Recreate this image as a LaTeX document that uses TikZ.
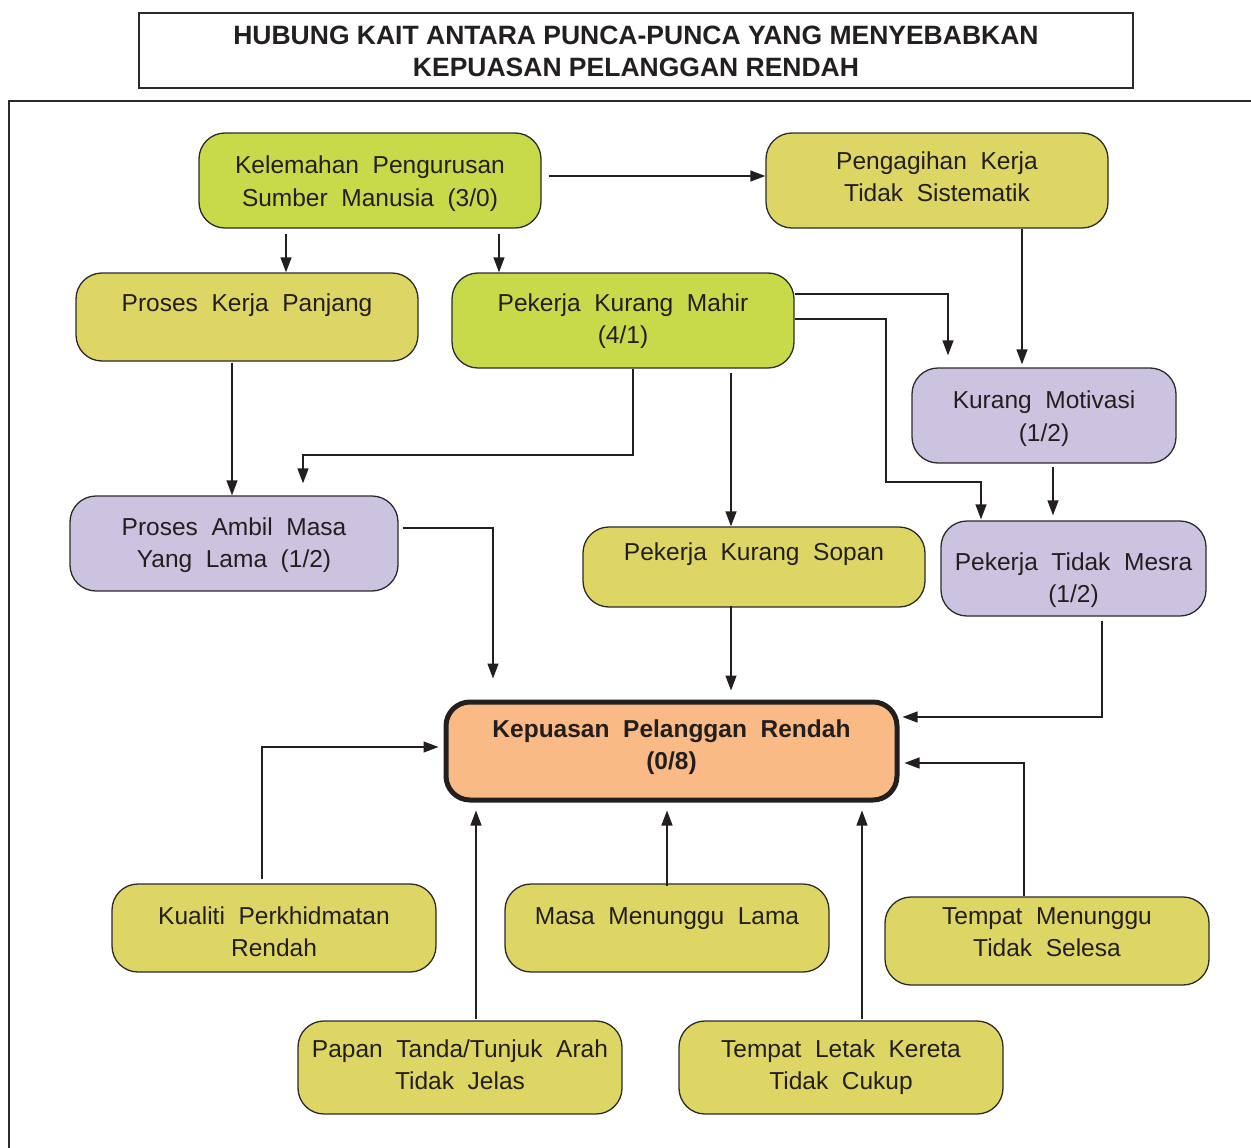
\documentclass[tikz,border=0pt]{standalone}
\usepackage{fontspec}
\setmainfont{Liberation Sans}
\newfontfamily\boxfont[WordSpace=2]{Liberation Sans}
\usetikzlibrary{arrows.meta}

\definecolor{ink}{HTML}{231F20}
\definecolor{edge}{HTML}{2B2B2B}
\definecolor{limefill}{HTML}{C8DA4A}
\definecolor{sandfill}{HTML}{DDD564}
\definecolor{lilacfill}{HTML}{CCC3E0}
\definecolor{peachfill}{HTML}{F9BA85}

\tikzset{
  cbox/.style={draw=edge, line width=1.3pt, rounded corners=26pt, inner sep=0pt},
  lime/.style={cbox, fill=limefill},
  sand/.style={cbox, fill=sandfill},
  lilac/.style={cbox, fill=lilacfill},
  boxtext/.style={align=center, inner sep=0pt, text=ink, yshift=-3pt,
    font=\boxfont\fontsize{24.5}{32.5}\selectfont},
  arr/.style={draw=ink, line width=1.3pt, -{Triangle[length=15pt,width=11pt]}},
  frame/.style={draw=edge, line width=1.5pt},
}

\begin{document}
\begin{tikzpicture}[x=1pt, y=-1pt]
\useasboundingbox (0,0) rectangle (1251,1148);

% heading and outer frame
\node[draw=edge, line width=1.3pt, minimum width=994pt, minimum height=75pt,
  label={[align=center, inner sep=0pt, text=ink, yshift=-4pt,
          font=\fontsize{26.5}{32}\selectfont\bfseries]center:{\strut HUBUNG KAIT ANTARA PUNCA-PUNCA YANG MENYEBABKAN\\\strut KEPUASAN PELANGGAN RENDAH}}]
  (title) at (636,50.5) {};
\draw[frame] (9,1148) -- (9,101) -- (1251,101);

% causes
\node[lime, minimum width=342pt, minimum height=95pt,
  label={[boxtext]center:{\strut Kelemahan Pengurusan\\\strut Sumber Manusia (3/0)}}]
  (kel) at (370,180.5) {};
\node[sand, minimum width=342pt, minimum height=95pt,
  label={[boxtext, yshift=4.5pt]center:{\strut Pengagihan Kerja\\\strut Tidak Sistematik}}]
  (peng) at (937,180.5) {};
\node[sand, minimum width=342pt, minimum height=88pt,
  label={[boxtext, yshift=-1pt]center:{\strut Proses Kerja Panjang\\\strut}}]
  (pkp) at (247,317) {};
\node[lime, minimum width=342pt, minimum height=95pt,
  label={[boxtext, yshift=2.5pt]center:{\strut Pekerja Kurang Mahir\\\strut (4/1)}}]
  (pkm) at (623,320.5) {};
\node[lilac, minimum width=264pt, minimum height=95pt,
  label={[boxtext]center:{\strut Kurang Motivasi\\\strut (1/2)}}]
  (km) at (1044,415.5) {};
\node[lilac, minimum width=328pt, minimum height=95pt,
  label={[boxtext, yshift=1.5pt]center:{\strut Proses Ambil Masa\\\strut Yang Lama (1/2)}}]
  (pam) at (234,543.5) {};
\node[sand, minimum width=342pt, minimum height=80pt,
  label={[boxtext, yshift=-0.5pt]center:{\strut Pekerja Kurang Sopan\\\strut}}]
  (pks) at (754,567) {};
\node[lilac, minimum width=265pt, minimum height=95pt,
  label={[boxtext, yshift=-8.5pt]center:{\strut Pekerja Tidak Mesra\\\strut (1/2)}}]
  (ptm) at (1073.5,568.5) {};

% central effect
\node[draw=ink, line width=5pt, rounded corners=24pt, fill=peachfill,
  minimum width=451pt, minimum height=98pt, inner sep=0pt,
  label={[boxtext, font=\boxfont\bfseries\fontsize{24.5}{32.5}\selectfont, yshift=7pt]center:{\strut Kepuasan Pelanggan Rendah\\\strut (0/8)}}]
  (kep) at (671.5,751) {};

% further causes below
\node[sand, minimum width=324pt, minimum height=88pt,
  label={[boxtext, yshift=-3pt]center:{\strut Kualiti Perkhidmatan\\\strut Rendah}}]
  (kua) at (274,928) {};
\node[sand, minimum width=324pt, minimum height=88pt,
  label={[boxtext, yshift=-3pt]center:{\strut Masa Menunggu Lama\\\strut}}]
  (mml) at (667,928) {};
\node[sand, minimum width=324pt, minimum height=88pt,
  label={[boxtext, yshift=10pt]center:{\strut Tempat Menunggu\\\strut Tidak Selesa}}]
  (tmt) at (1047,941) {};
\node[sand, minimum width=324pt, minimum height=93pt,
  label={[boxtext, yshift=3.5pt]center:{\strut Papan Tanda/Tunjuk Arah\\\strut Tidak Jelas}}]
  (ptj) at (460,1067.5) {};
\node[sand, minimum width=324pt, minimum height=93pt,
  label={[boxtext, yshift=3.5pt]center:{\strut Tempat Letak Kereta\\\strut Tidak Cukup}}]
  (tlk) at (841,1067.5) {};

% links between causes
\draw[arr] ([xshift=7pt]kel.east |- 0,176) -- (peng.west |- 0,176);
\draw[arr] ([yshift=-5pt]kel.south -| 286,0) -- (pkp.north -| 286,0);
\draw[arr] ([yshift=-5pt]kel.south -| 499,0) -- (pkm.north -| 499,0);
\draw[arr] (peng.south -| 1022,0) -- ([yshift=3pt]km.north -| 1022,0);
\draw[arr] (pkm.east |- 0,294) -| ([yshift=12pt]km.north -| 948,0);
\draw[arr] (pkm.east |- 0,319) -| (886,482) -| ([yshift=1pt]ptm.north -| 981,0);
\draw[arr] ([yshift=-3pt]km.south -| 1053,0) -- ([yshift=5pt]ptm.north -| 1053,0);
\draw[arr] ([yshift=-1pt]pkp.south -| 232,0) -- (pam.north -| 232,0);
\draw[arr] (pkm.south -| 633,0) |- (303,455) -- ([yshift=12pt]pam.north -| 303,0);
\draw[arr] ([yshift=-4pt]pkm.south -| 731,0) -- (pks.north -| 731,0);

% links into the central effect
\draw[arr] ([xshift=4pt]pam.east |- 0,528) -| ([yshift=21pt]kep.north -| 493,0);
\draw[arr] ([yshift=2pt]pks.south -| 731,0) -- ([yshift=9pt]kep.north -| 731,0);
\draw[arr] ([yshift=-4pt]ptm.south -| 1102,0) |- ([xshift=3pt]kep.east |- 0,717);
\draw[arr] ([yshift=4pt]kua.north -| 262,0) |- ([xshift=-5pt]kep.west |- 0,747);
\draw[arr] ([yshift=1pt]ptj.north -| 476,0) -- ([yshift=-8pt]kep.south -| 476,0);
\draw[arr] ([yshift=-3pt]mml.north -| 667,0) -- ([yshift=-8pt]kep.south -| 667,0);
\draw[arr] ([yshift=1pt]tlk.north -| 862,0) -- ([yshift=-8pt]kep.south -| 862,0);
\draw[arr] (tmt.north -| 1024,0) |- ([xshift=5pt]kep.east |- 0,763);
\end{tikzpicture}
\end{document}
